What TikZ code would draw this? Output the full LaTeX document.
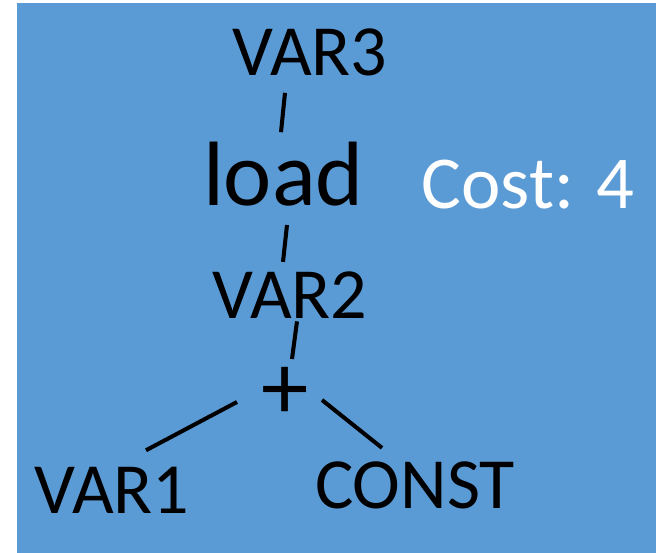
\documentclass[tikz,border=0pt]{standalone}
\usepackage{fontspec}
\setmainfont{Carlito}
\usepackage{tikz}
\usetikzlibrary{calc}
\definecolor{slideblue}{RGB}{91,155,213}

\begin{document}
\begin{tikzpicture}[
  x=0.02cm, y=-0.02cm,
  term/.style={inner sep=0pt, anchor=base, text=black, font=\fontsize{41}{49}\selectfont},
  op/.style={inner sep=0pt, anchor=base, text=black, font=\fontsize{52}{60}\selectfont},
  cost/.style={inner sep=0pt, anchor=base, text=white, font=\fontsize{42.5}{50}\selectfont},
  edge/.style={line width=2.3pt, draw=black}
]
% Background
\useasboundingbox (0,0) rectangle (656,553);
\fill[slideblue] (17,3) rectangle (656,553);
% Tree
\node[term] (var3) at (310,76) {VAR3};
\node[op] (load) at (283.5,206) {load};
\node[term] (var2) at (290,319) {VAR2};
\node[op, anchor=center, font=\fontsize{54}{60}\selectfont] (plus) at (285,393) {+};
\node[term] (var1) at (112,514) {VAR1};
\node[term] (const) at (415,509) {CONST};
\node[cost] (cost) at (528,209) {Cost: 4};
% Edges
\draw[edge] ($(var3.south)+(-25,16)$) -- ($(load.north)+(-2.5,-10)$);
\draw[edge] ($(load.south)+(3.5,18)$) -- ($(var2.north)+(-7,-10)$);
\draw[edge] ($(var2.south)+(7,2)$) -- ($(plus.center)+(7,-34)$);
\draw[edge] ($(plus.center)+(-48,9)$) -- ($(var1.north)+(34,-17)$);
\draw[edge] ($(plus.center)+(37,7)$) -- ($(const.north)+(-33,-14)$);
\end{tikzpicture}
\end{document}
